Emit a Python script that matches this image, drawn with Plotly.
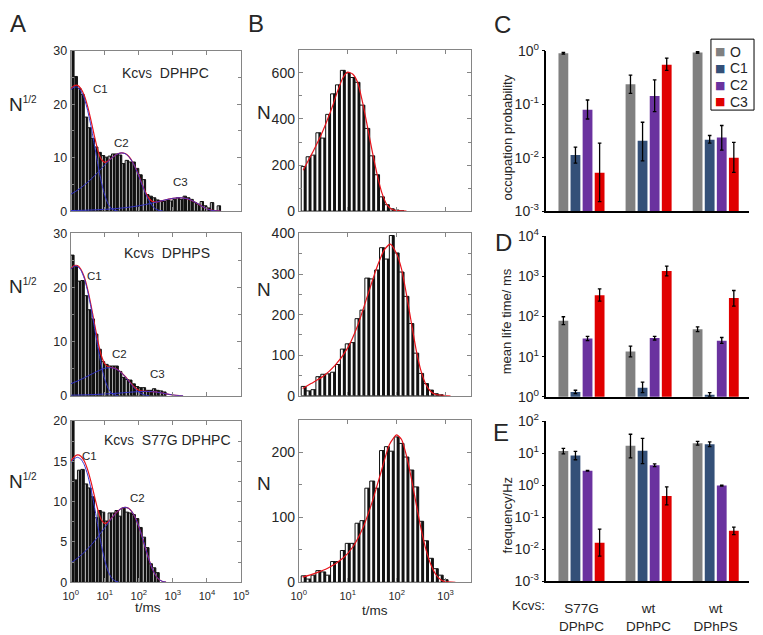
import plotly.graph_objects as go

W, H = 763, 635

# ---------------- data ----------------
BIN = 0.1          # histogram bin width (decades)
A_START = 0.0      # first bin edge, panel A (log10 t/ms)
B_START = 0.05     # first bin edge, panel B

# Panel A: sqrt(N) histograms of closed dwell times
A1_N = [32, 25.2, 23.0, 21.8, 17.6, 15.6, 13.6, 12.0, 11.0, 10.4, 10.1, 10.3, 10.7, 10.7, 10.5,
        8.9, 9.5, 9.2, 9.2, 8.0, 6.8, 5.9, 3.1, 2.8, 2.5, 2.1, 1.9, 1.8, 2.1, 1.9, 2.2, 2.5, 2.2,
        2.8, 2.5, 2.2, 1.6, 1.3, 1.8, 1.0, 0.6, 1.6, 0, 1.0]
A2_N = [26.0, 23.9, 21.2, 21.3, 18.5, 15.9, 14.2, 11.4, 8.6, 6.3, 5.8, 5.5, 5.5, 5.5, 4.5, 3.4,
        3.0, 2.9, 2.2, 1.7, 1.5, 1.5, 1.0, 1.0, 1.3, 1.0, 0.9, 0.7]
A3_N = [20.5, 12.7, 13.9, 14.0, 12.2, 11.7, 10.6, 8.0, 8.9, 8.7, 7.6, 8.6, 8.6, 8.9, 8.2, 9.2,
        8.7, 8.6, 8.4, 7.9, 6.8, 5.6, 4.3, 2.3, 1.8, 1.2]

# Panel A fitted curves (log10 t, sqrt N)
A1_TOT_U = [0, .1, .2, .3, .4, .5, .6, .7, .8, .9, 1.0, 1.1, 1.2, 1.3, 1.4, 1.5, 1.6, 1.7, 1.8, 1.9,
            2.0, 2.1, 2.2, 2.3, 2.4, 2.5, 2.6, 2.8, 3.0, 3.2, 3.4, 3.6, 3.8, 4.0, 4.2, 4.4]
A1_TOT_V = [22.92, 23.46, 23.53, 22.92, 21.65, 19.56, 16.9, 13.96, 11.33, 9.67, 9.14, 9.40, 9.92,
            10.42, 10.78, 10.91, 10.77, 10.27, 9.39, 8.16, 6.65, 5.01, 3.51, 2.37, 1.79, 1.69, 1.82,
            2.13, 2.39, 2.5, 2.35, 1.86, 1.12, 0.44, 0.09, 0]
A1_C1_U = [0, .1, .2, .3, .4, .5, .6, .7, .8, .9, 1.0, 1.1, 1.2, 1.3, 1.4]
A1_C1_V = [22.7, 23.2, 23.2, 22.5, 21.1, 18.8, 15.8, 12.3, 8.7, 5.5, 3.0, 1.33, 0.47, 0.12, 0]
A1_C2_U = [0, .1, .2, .3, .4, .5, .6, .7, .8, .9, 1.0, 1.1, 1.2, 1.3, 1.4, 1.5, 1.6, 1.7, 1.8, 1.9,
           2.0, 2.1, 2.2, 2.3, 2.4, 2.5, 2.6, 2.7]
A1_C2_V = [3.15, 3.51, 3.92, 4.37, 4.87, 5.41, 5.98, 6.61, 7.26, 7.95, 8.63, 9.30, 9.90, 10.41,
           10.77, 10.9, 10.75, 10.25, 9.36, 8.11, 6.57, 4.89, 3.28, 1.93, 0.95, 0.38, 0.12, 0.03]
A1_C3_U = [0, .5, 1.0, 1.2, 1.4, 1.6, 1.8, 2.0, 2.2, 2.4, 2.6, 2.8, 3.0, 3.2, 3.4, 3.5, 3.6, 3.7,
           3.8, 3.9, 4.0, 4.1, 4.2, 4.3, 4.4]
A1_C3_V = [0.105, 0.184, 0.326, 0.41, 0.515, 0.645, 0.805, 1.0, 1.24, 1.515, 1.82, 2.13, 2.39, 2.5,
           2.35, 2.15, 1.86, 1.51, 1.12, 0.75, 0.44, 0.22, 0.088, 0.027, 0]

A2_TOT_U = [0, .1, .2, .3, .4, .5, .6, .7, .8, .9, 1.0, 1.1, 1.2, 1.3, 1.4, 1.5, 1.6, 1.7, 1.8, 1.9,
            2.0, 2.1, 2.2, 2.4, 2.6, 2.8, 3.0, 3.2, 3.3]
A2_TOT_V = [23.45, 24.05, 24.07, 23.39, 21.95, 19.64, 16.68, 13.31, 10.07, 7.44, 5.92, 5.37, 5.22,
            5.05, 4.73, 4.23, 3.57, 2.81, 2.05, 1.42, 1.01, 0.84, 0.81, 0.75, 0.60, 0.36, 0.14,
            0.03, 0]
A2_C1_U = [0, .1, .2, .3, .4, .5, .6, .7, .8, .9, 1.0, 1.1, 1.2, 1.3, 1.4]
A2_C1_V = [23.35, 23.93, 23.92, 23.2, 21.7, 19.3, 16.2, 12.6, 8.96, 5.64, 3.05, 1.37, 0.48, 0.13, 0]
A2_C2_U = [0, .2, .4, .6, .8, .9, 1.0, 1.1, 1.2, 1.3, 1.4, 1.5, 1.6, 1.7, 1.8, 1.9, 2.0, 2.1, 2.2, 2.3]
A2_C2_V = [2.2, 2.72, 3.31, 3.95, 4.58, 4.84, 5.06, 5.18, 5.18, 5.03, 4.70, 4.19, 3.52, 2.74, 1.94,
           1.22, 0.66, 0.30, 0.10, 0.03]
A2_C3_U = [0, .5, 1.0, 1.4, 1.6, 1.8, 2.0, 2.2, 2.4, 2.5, 2.6, 2.7, 2.8, 2.9, 3.0, 3.1, 3.2, 3.3]
A2_C3_V = [0.10, 0.18, 0.32, 0.48, 0.58, 0.68, 0.76, 0.8, 0.75, 0.69, 0.60, 0.48, 0.36, 0.24, 0.14,
           0.07, 0.03, 0]

A3_TOT_U = [0, .1, .2, .3, .4, .5, .6, .7, .8, .9, 1.0, 1.1, 1.2, 1.3, 1.4, 1.5, 1.6, 1.7, 1.8, 1.9,
            2.0, 2.1, 2.2, 2.3, 2.4, 2.5, 2.6, 2.7, 2.8]
A3_TOT_V = [14.99, 15.54, 15.79, 15.64, 15.04, 13.94, 12.42, 10.65, 8.96, 7.76, 7.31, 7.48, 7.95,
            8.45, 8.88, 9.19, 9.3, 9.17, 8.74, 7.99, 6.92, 5.61, 4.18, 2.80, 1.65, 0.81, 0.33,
            0.10, 0.02]
A3_C1_U = [0, .1, .2, .3, .4, .5, .6, .7, .8, .9, 1.0, 1.1, 1.2, 1.3, 1.4]
A3_C1_V = [14.8, 15.31, 15.5, 15.28, 14.57, 13.31, 11.53, 9.35, 6.96, 4.67, 2.74, 1.36, 0.54, 0.17, 0.04]
A3_C2_U = A3_TOT_U
A3_C2_V = [2.40, 2.68, 2.99, 3.35, 3.73, 4.15, 4.61, 5.11, 5.64, 6.20, 6.78, 7.36, 7.93, 8.45, 8.88,
           9.19, 9.3, 9.17, 8.74, 7.99, 6.92, 5.61, 4.18, 2.80, 1.65, 0.81, 0.33, 0.10, 0.02]

# Panel B: N histograms of open dwell times
B1_N = [194, 236, 243, 340, 317, 420, 509, 548, 611, 600, 580, 559, 460, 359, 240, 158, 62, 28, 10, 4, 1]
B2_N = [23, 12, 15, 47, 53, 54, 58, 77, 115, 128, 131, 190, 211, 290, 288, 310, 365, 337, 395, 352,
        305, 245, 178, 105, 55, 30, 14, 5, 2]
B3_N = [10, 5, 11, 18, 16, 11, 32, 32, 49, 60, 60, 91, 95, 145, 156, 145, 203, 209, 202, 224, 214,
        193, 173, 147, 94, 64, 37, 21, 11, 4]

B1_FIT_U = [0.09, .2, .3, .4, .5, .6, .7, .8, .9, 1.0, 1.1, 1.2, 1.3, 1.4, 1.5, 1.6, 1.7, 1.8, 1.9,
            2.0, 2.2]
B1_FIT_V = [177, 222, 262, 305, 352, 405, 462, 525, 578, 603, 595, 560, 475, 370, 260, 160, 78, 28,
            8, 2, 0]
B2_FIT_U = [0.08, .25, .5, .75, 1.0, 1.2, 1.4, 1.6, 1.75, 1.87, 2.0, 2.1, 2.2, 2.3, 2.4, 2.5, 2.6,
            2.7, 2.8, 2.95, 3.1]
B2_FIT_V = [18, 30, 48, 76, 118, 172, 245, 318, 360, 374, 350, 312, 250, 180, 112, 60, 27, 10, 3, 1, 0]
B3_FIT_U = [0.08, .3, .6, .9, 1.1, 1.3, 1.5, 1.7, 1.85, 2.0, 2.1, 2.2, 2.3, 2.4, 2.5, 2.6, 2.7, 2.8,
            2.9, 3.0, 3.2]
B3_FIT_V = [8, 13, 22, 37, 54, 82, 124, 175, 212, 227, 220, 195, 160, 120, 82, 50, 27, 12, 4, 1, 0]

# Panels C-E: kinetic parameters
GROUPS = ["S77G<br>DPhPC", "wt<br>DPhPC", "wt<br>DPhPS"]
STATES = ["O", "C1", "C2", "C3"]
STATE_COLORS = ["#808080", "#345078", "#6a329f", "#e00000"]

OCC = {"O": [0.90, 0.238, 0.93], "C1": [0.0112, 0.0207, 0.0216],
       "C2": [0.079, 0.142, 0.0238], "C3": [0.0052, 0.55, 0.0100]}
OCC_HI = {"O": [0.93, 0.35, 0.96], "C1": [0.0157, 0.046, 0.026],
          "C2": [0.12, 0.285, 0.040], "C3": [0.0187, 0.73, 0.0193]}
OCC_LO = {"O": [0.87, 0.16, 0.90], "C1": [0.0079, 0.0087, 0.0187],
          "C2": [0.053, 0.073, 0.0138], "C3": [0.0015, 0.43, 0.0053]}

LIFE = {"O": [79, 13.5, 48], "C1": [1.32, 1.68, 1.12], "C2": [28.5, 29, 25], "C3": [338, 1366, 292]}
LIFE_HI = {"O": [99, 18.2, 55], "C1": [1.45, 2.31, 1.27], "C2": [32, 32, 30], "C3": [491, 1806, 447]}
LIFE_LO = {"O": [63, 9.9, 42], "C1": [1.2, 1.27, 1.02], "C2": [25, 26, 21.5], "C3": [242, 1033, 183]}

FREQ = {"O": [11.6, 16.8, 20.2], "C1": [8.4, 11.9, 18.9], "C2": [2.82, 4.19, 0.97],
        "C3": [0.0161, 0.46, 0.038]}
FREQ_HI = {"O": [14, 38.7, 23.2], "C1": [11.3, 28.6, 22.2], "C2": [2.9, 4.6, 1.0],
           "C3": [0.0426, 0.887, 0.049]}
FREQ_LO = {"O": [9.4, 7.1, 17.6], "C1": [6.2, 4.7, 16.0], "C2": [2.74, 3.8, 0.94],
           "C3": [0.0061, 0.242, 0.0288]}

# ---------------- helpers ----------------
FONT = "Liberation Sans, Arial, sans-serif"
TXT = "#262626"
RED = "#e8141c"
BLUE = "#3535d0"
FRAME = "#858585"


def fx(p):
    return p / W


def fy(p):
    return 1 - p / H


fig = go.Figure()


def hist(vals, start, xa, ya, dark):
    centers = [start + BIN * (i + 0.5) for i in range(len(vals))]
    # white bins with thin outline
    fig.add_trace(go.Bar(x=centers, y=vals, width=BIN, xaxis=xa, yaxis=ya, showlegend=False,
                         marker=dict(color="white", line=dict(color="#111", width=1))))
    # heavy dark stripe on the right part of every bin (printed-histogram look)
    fig.add_trace(go.Bar(x=centers, y=vals, width=BIN * dark, offset=BIN * (0.5 - dark),
                         xaxis=xa, yaxis=ya, showlegend=False,
                         marker=dict(color="#111", line=dict(width=0))))


def curve(u, v, color, xa, ya, w=1.2):
    fig.add_trace(go.Scatter(x=u, y=v, mode="lines", xaxis=xa, yaxis=ya, showlegend=False,
                             line=dict(color=color, width=w, shape="spline", smoothing=0.6)))


# Panel A
hist(A1_N, A_START, "x", "y", 0.55)
curve(A1_TOT_U, A1_TOT_V, RED, "x", "y")
for u, v in [(A1_C1_U, A1_C1_V), (A1_C2_U, A1_C2_V), (A1_C3_U, A1_C3_V)]:
    curve(u, v, BLUE, "x", "y", 1.0)
hist(A2_N, A_START, "x2", "y2", 0.55)
curve(A2_TOT_U, A2_TOT_V, RED, "x2", "y2")
for u, v in [(A2_C1_U, A2_C1_V), (A2_C2_U, A2_C2_V), (A2_C3_U, A2_C3_V)]:
    curve(u, v, BLUE, "x2", "y2", 1.0)
hist(A3_N, A_START, "x3", "y3", 0.55)
curve(A3_TOT_U, A3_TOT_V, RED, "x3", "y3")
for u, v in [(A3_C1_U, A3_C1_V), (A3_C2_U, A3_C2_V)]:
    curve(u, v, BLUE, "x3", "y3", 1.0)

# Panel B
hist(B1_N, B_START, "x4", "y4", 0.5)
curve(B1_FIT_U, B1_FIT_V, RED, "x4", "y4")
hist(B2_N, B_START, "x5", "y5", 0.5)
curve(B2_FIT_U, B2_FIT_V, RED, "x5", "y5")
hist(B3_N, B_START, "x6", "y6", 0.5)
curve(B3_FIT_U, B3_FIT_V, RED, "x6", "y6")

# Panels C-E
SLOT = 0.18
BW = 0.146
for xa, ya, val, hi, lo in [("x7", "y7", OCC, OCC_HI, OCC_LO),
                            ("x8", "y8", LIFE, LIFE_HI, LIFE_LO),
                            ("x9", "y9", FREQ, FREQ_HI, FREQ_LO)]:
    for k, (st, col) in enumerate(zip(STATES, STATE_COLORS)):
        v = val[st]
        fig.add_trace(go.Bar(
            x=[0, 1, 2], y=v, name=st, xaxis=xa, yaxis=ya, showlegend=False,
            width=BW, offset=(k - 1.5) * SLOT - BW / 2,
            marker=dict(color=col, line=dict(width=0)),
            error_y=dict(type="data", symmetric=False,
                         array=[h - a for h, a in zip(hi[st], v)],
                         arrayminus=[a - l for a, l in zip(v, lo[st])],
                         color="black", thickness=1.3, width=1.8)))

# ---------------- axes ----------------
layout = dict(width=W, height=H, margin=dict(l=0, r=0, t=0, b=0), barmode="overlay",
              paper_bgcolor="white", plot_bgcolor="white", showlegend=False,
              font=dict(family=FONT, color=TXT, size=13))

sup = lambda k: f"10<sup>{k}</sup>"


def frame_x(dom, rng, tickvals, labels):
    return dict(domain=[fx(dom[0]), fx(dom[1])], range=rng, showgrid=False, zeroline=False,
                showline=True, linecolor=FRAME, linewidth=1, mirror="allticks",
                ticks="inside", ticklen=4, tickcolor=FRAME, tickvals=tickvals,
                ticktext=[sup(t) for t in tickvals], showticklabels=labels,
                tickfont=dict(size=11, color=TXT), ticklabelstandoff=3)


def frame_y(dom, rng, tickvals, minor, fsize, anchor):
    return dict(domain=[fy(dom[1]), fy(dom[0])], range=rng, showgrid=False, zeroline=False,
                showline=True, linecolor=FRAME, linewidth=1, mirror="allticks",
                ticks="inside", ticklen=4, tickcolor=FRAME, tickvals=tickvals,
                minor=dict(dtick=minor, ticks="inside", ticklen=3, tickcolor=FRAME),
                tickfont=dict(size=fsize, color=TXT), anchor=anchor)


A_XD = (64, 238)
B_XD = (297, 473)
ROWS_A = [(42, 207), (230, 397), (423, 589)]
ROWS_B = [(41, 207), (230, 397), (422, 589)]

layout["xaxis"] = dict(frame_x(A_XD, [0, 5], [0, 1, 2, 3, 4, 5], False), anchor="y")
layout["xaxis2"] = dict(frame_x(A_XD, [0, 5], [0, 1, 2, 3, 4, 5], False), anchor="y2")
layout["xaxis3"] = dict(frame_x(A_XD, [0, 5], [0, 1, 2, 3, 4, 5], True), anchor="y3")
layout["yaxis"] = frame_y(ROWS_A[0], [0, 30], [0, 10, 20, 30], 5, 12.5, "x")
layout["yaxis2"] = frame_y(ROWS_A[1], [0, 30], [0, 10, 20, 30], 5, 12.5, "x2")
layout["yaxis3"] = frame_y(ROWS_A[2], [0, 20], [0, 5, 10, 15, 20], 2.5, 12.5, "x3")

layout["xaxis4"] = dict(frame_x(B_XD, [0, 3.52], [0, 1, 2, 3], False), anchor="y4")
layout["xaxis5"] = dict(frame_x(B_XD, [0, 3.52], [0, 1, 2, 3], False), anchor="y5")
layout["xaxis6"] = dict(frame_x(B_XD, [0, 3.52], [0, 1, 2, 3], True), anchor="y6")
layout["yaxis4"] = frame_y(ROWS_B[0], [0, 700], [0, 200, 400, 600], 100, 14, "x4")
layout["yaxis5"] = frame_y(ROWS_B[1], [0, 400], [0, 100, 200, 300, 400], 50, 14, "x5")
layout["yaxis6"] = frame_y(ROWS_B[2], [0, 250], [0, 100, 200], 50, 14, "x6")

C_XD = (550, 757)
ROWS_C = [(42, 207), (233, 398), (423, 588)]
for i, (rows, rng, exps) in enumerate(zip(ROWS_C, [[-3, 0], [0, 4], [-3, 2]],
                                          [[-3, -2, -1, 0], [0, 1, 2, 3, 4], [-3, -2, -1, 0, 1, 2]])):
    n = 7 + i
    layout[f"xaxis{n}"] = dict(domain=[fx(C_XD[0]), fx(C_XD[1])], range=[-0.522, 2.498],
                               anchor=f"y{n}", showgrid=False, zeroline=False, showline=True,
                               linecolor="black", linewidth=1.5, ticks="",
                               tickvals=[0, 1, 2], ticktext=GROUPS, showticklabels=(n == 9),
                               tickfont=dict(size=13.5, color=TXT), ticklabelstandoff=14)
    layout[f"yaxis{n}"] = dict(domain=[fy(rows[1]), fy(rows[0])], type="log", range=rng,
                               anchor=f"x{n}", showgrid=False, zeroline=False, showline=True,
                               linecolor="black", linewidth=1.5, ticks="outside", ticklen=3,
                               tickcolor="black", tickvals=[10 ** e for e in exps],
                               ticktext=[sup(e) for e in exps],
                               tickfont=dict(size=14, color=TXT))

# ---------------- annotations ----------------
ann = []


def txt(text, x, y, size, ref=("paper", "paper"), **kw):
    d = dict(text=text, x=x, y=y, xref=ref[0], yref=ref[1], showarrow=False,
             font=dict(family=FONT, size=size, color=TXT), xanchor="center", yanchor="middle")
    d.update(kw)
    ann.append(d)


# panel letters
for L, x, y in [("A", 10, 14), ("B", 253, 14), ("C", 505, 15), ("D", 506, 239), ("E", 504, 435)]:
    txt(L, fx(x), fy(y), 24)

KCV = "Kcv<span style='font-size:10px'>S</span>"
# panel A labels
for ax, items in [(("x", "y"), [("C1", 0.89, 22.9), ("C2", 1.49, 12.7), ("C3", 3.23, 5.5),
                                (KCV + "  DPHPC", 2.77, 25.8)]),
                  (("x2", "y2"), [("C1", 0.71, 22.1), ("C2", 1.43, 7.7), ("C3", 2.54, 4.1),
                                  (KCV + "  DPHPS", 2.83, 26.3)]),
                  (("x3", "y3"), [("C1", 0.54, 15.7), ("C2", 1.96, 10.5),
                                  (KCV + "  S77G DPHPC", 2.84, 17.7)])]:
    for t, xv, yv in items:
        txt(t, xv, yv, 14 if "Kcv" in t else 11.5, ref=ax)

NSQ = "N<sup><span style='font-size:10px'>1/2</span></sup>"
for y in [97, 285, 485]:
    txt(NSQ, fx(15), fy(y), 19)
for y in [106, 288, 487]:
    txt("N", fx(261), fy(y), 19)
txt("t/ms", fx(143), fy(615), 13.5)
txt("t/ms", fx(375), fy(618), 13.5)

# C-E axis titles
txt("occupation probability", fx(510), fy(131), 13, textangle=-90)
txt("mean life time/ ms", fx(510), fy(320), 13, textangle=-90)
txt("frequency/Hz", fx(510), fy(520), 13, textangle=-90)
txt(KCV + ":", fx(532), fy(603), 13.5, yanchor="top")

# legend for panel C (box, colour squares, labels)
shapes = [dict(type="rect", xref="paper", yref="paper", x0=fx(718), x1=fx(762), y0=fy(103),
               y1=fy(30), line=dict(color="black", width=1), fillcolor="white", layer="above")]
for k, (s, c) in enumerate(zip(STATES, STATE_COLORS)):
    yc = 43 + k * 17.2
    txt("■", fx(727), fy(yc), 11, font=dict(family="DejaVu Sans", size=11, color=c))
    txt(s, fx(735), fy(yc), 14, xanchor="left")

layout["annotations"] = ann
layout["shapes"] = shapes
fig.update_layout(**layout)
fig.write_html("out.html", config={"displayModeBar": False},
               post_script="document.body.style.margin='0px';document.body.style.overflow='hidden';")
